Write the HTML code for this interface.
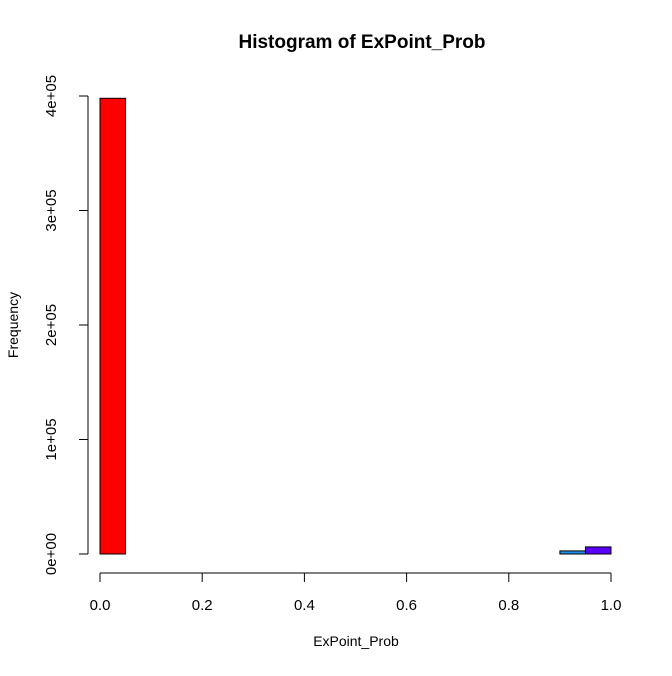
<!DOCTYPE html>
<html><head><meta charset="utf-8"><style>
body{margin:0;background:#fff}
text{font-family:"Liberation Sans",Arial,sans-serif}
</style></head><body>
<svg id="c" width="672" height="671" xmlns="http://www.w3.org/2000/svg">
<rect width="672" height="671" fill="#fff"/>
<text x="362" y="48" font-size="19" font-weight="bold" text-anchor="middle">Histogram of ExPoint_Prob</text>
<text x="356" y="646" font-size="14" text-anchor="middle">ExPoint_Prob</text>
<text transform="translate(18,325) rotate(-90)" font-size="14" text-anchor="middle">Frequency</text>
<g id="bars"></g><g id="xa"></g><g id="ya"></g>
</svg>
<script>
const binStarts=[0,0.05,0.1,0.15,0.2,0.25,0.3,0.35,0.4,0.45,0.5,0.55,0.6,0.65,0.7,0.75,0.8,0.85,0.9,0.95];
const counts=[398000,0,0,0,0,0,0,0,0,0,0,0,0,0,0,0,0,0,2700,6200];
const xTicks=[0,0.2,0.4,0.6,0.8,1.0];
const xTickLabels=["0.0","0.2","0.4","0.6","0.8","1.0"];
const yTicks=[0,100000,200000,300000,400000];
const yTickLabels=["0e+00","1e+05","2e+05","3e+05","4e+05"];
const colors=["#FF0000","#FF4D00","#FF9900","#FFE500","#CCFF00","#80FF00","#33FF00","#00FF19","#00FF66","#00FFB2","#00FFFF","#00B3FF","#0066FF","#0019FF","#3300FF","#8000FF","#CC00FF","#FF00E6","#1E8FE6","#5A00FF"];
const NS="http://www.w3.org/2000/svg";
const X=v=>100+v*511, Y=v=>554-v*458/400000;
const bw=0.05;
const bars=document.getElementById('bars');
binStarts.forEach((s,i)=>{
  const r=document.createElementNS(NS,'rect');
  const y0=Y(counts[i]);
  r.setAttribute('x',X(s));r.setAttribute('width',X(s+bw)-X(s));
  r.setAttribute('y',y0);r.setAttribute('height',Math.max(0,554-y0));
  r.setAttribute('fill',colors[i]);r.setAttribute('stroke','#000');r.setAttribute('stroke-width','1');
  
  
  bars.appendChild(r);
});
const xa=document.getElementById('xa');
let h='<line x1="'+X(0)+'" x2="'+X(1)+'" y1="573" y2="573" stroke="#000"/>';
xTicks.forEach((t,i)=>{h+='<line x1="'+X(t)+'" x2="'+X(t)+'" y1="573" y2="582" stroke="#000"/><text x="'+X(t)+'" y="610" font-size="15" text-anchor="middle">'+xTickLabels[i]+'</text>';});
xa.innerHTML=h;


const ya=document.getElementById('ya');
h='<line x1="88" x2="88" y1="'+Y(0)+'" y2="'+Y(400000)+'" stroke="#000"/>';
yTicks.forEach((t,i)=>{h+='<line x1="79" x2="88" y1="'+Y(t)+'" y2="'+Y(t)+'" stroke="#000"/><text transform="translate(56,'+Y(t)+') rotate(-90)" font-size="15" text-anchor="middle">'+yTickLabels[i]+'</text>';});
ya.innerHTML=h;


</script>
</body></html>
